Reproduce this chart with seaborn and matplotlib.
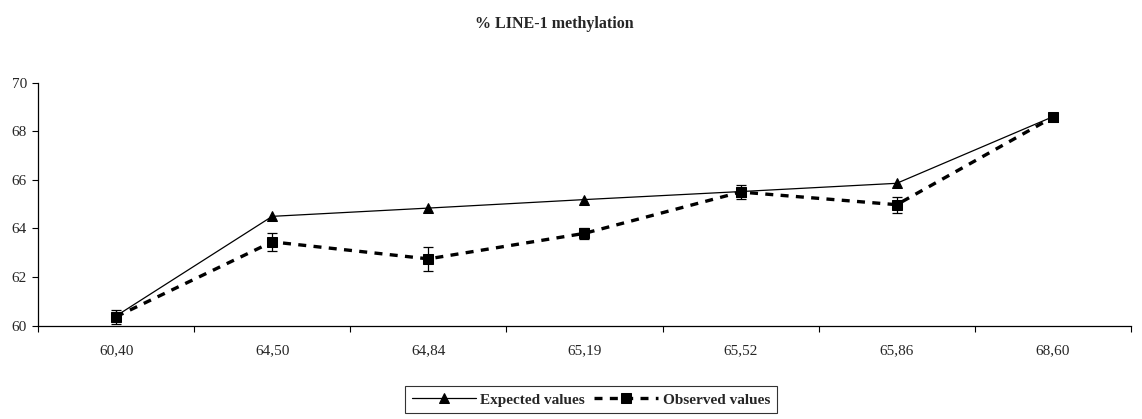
import matplotlib
matplotlib.use("Agg")
import matplotlib.pyplot as plt
import seaborn as sns
import numpy as np
import pandas as pd

# data
categories = ["60,40", "64,50", "64,84", "65,19", "65,52", "65,86", "68,60"]
expected = [60.40, 64.50, 64.84, 65.19, 65.52, 65.86, 68.60]
observed = [60.37, 63.45, 62.75, 63.80, 65.50, 64.98, 68.58]
observed_err = [0.28, 0.36, 0.50, 0.22, 0.30, 0.33, 0.08]

sns.set_style("white")
plt.rcParams['font.family'] = ['Liberation Serif', 'DejaVu Serif']

pos = np.arange(len(categories))
df = pd.DataFrame({"pos": pos, "expected": expected, "observed": observed})

fig = plt.figure(figsize=(11.42, 4.19), dpi=100)
ax = fig.add_axes([0.0333, 0.2227, 0.9570, 0.5799])

sns.lineplot(data=df, x="pos", y="expected", ax=ax, color="black", linewidth=0.9,
             marker="^", markersize=7, markeredgecolor="black", label="Expected values")
sns.lineplot(data=df, x="pos", y="observed", ax=ax, color="black", linewidth=2.4,
             marker="s", markersize=6.5, markeredgecolor="black", label="Observed values",
             linestyle=(0, (2.4, 2.2)))
ax.errorbar(pos, observed, yerr=observed_err, fmt="none", ecolor="black",
            elinewidth=0.9, capsize=3.6, capthick=0.9)

ax.set_xlim(-0.5, len(categories) - 0.5)
ax.set_ylim(60, 70)
ax.set_yticks([60, 62, 64, 66, 68, 70])
ax.set_xticks(np.arange(len(categories) + 1) - 0.5)
ax.set_xticklabels([])
ax.set_xticks(pos, minor=True)
ax.set_xticklabels(categories, minor=True)
ax.tick_params(axis="x", which="major", bottom=True, direction="out", length=4.5, width=0.8, color="black")
ax.tick_params(axis="x", which="minor", bottom=True, length=0, pad=13, labelsize=11)
ax.tick_params(axis="y", left=True, direction="out", length=4, width=0.8, color="black", pad=4, labelsize=11)
ax.set_xlabel("")
ax.set_ylabel("")

sns.despine(ax=ax)
for s in ["left", "bottom"]:
    ax.spines[s].set_color("black")
    ax.spines[s].set_linewidth(0.9)

fig.text(0.485, 0.943, "% LINE-1 methylation", ha="center", va="center",
         fontsize=11.5, fontweight="bold")

leg = ax.legend(loc="upper center", bbox_to_anchor=(0.5175, 1 - 386 / 419),
                bbox_transform=fig.transFigure, ncol=2, frameon=True, fancybox=False,
                prop={"weight": "bold", "size": 11}, handlelength=4.2,
                columnspacing=0.6, handletextpad=0.3, borderpad=0.45, borderaxespad=0)
leg.get_frame().set_edgecolor("black")
leg.get_frame().set_linewidth(0.8)

plt.savefig("out.png", dpi=100)
